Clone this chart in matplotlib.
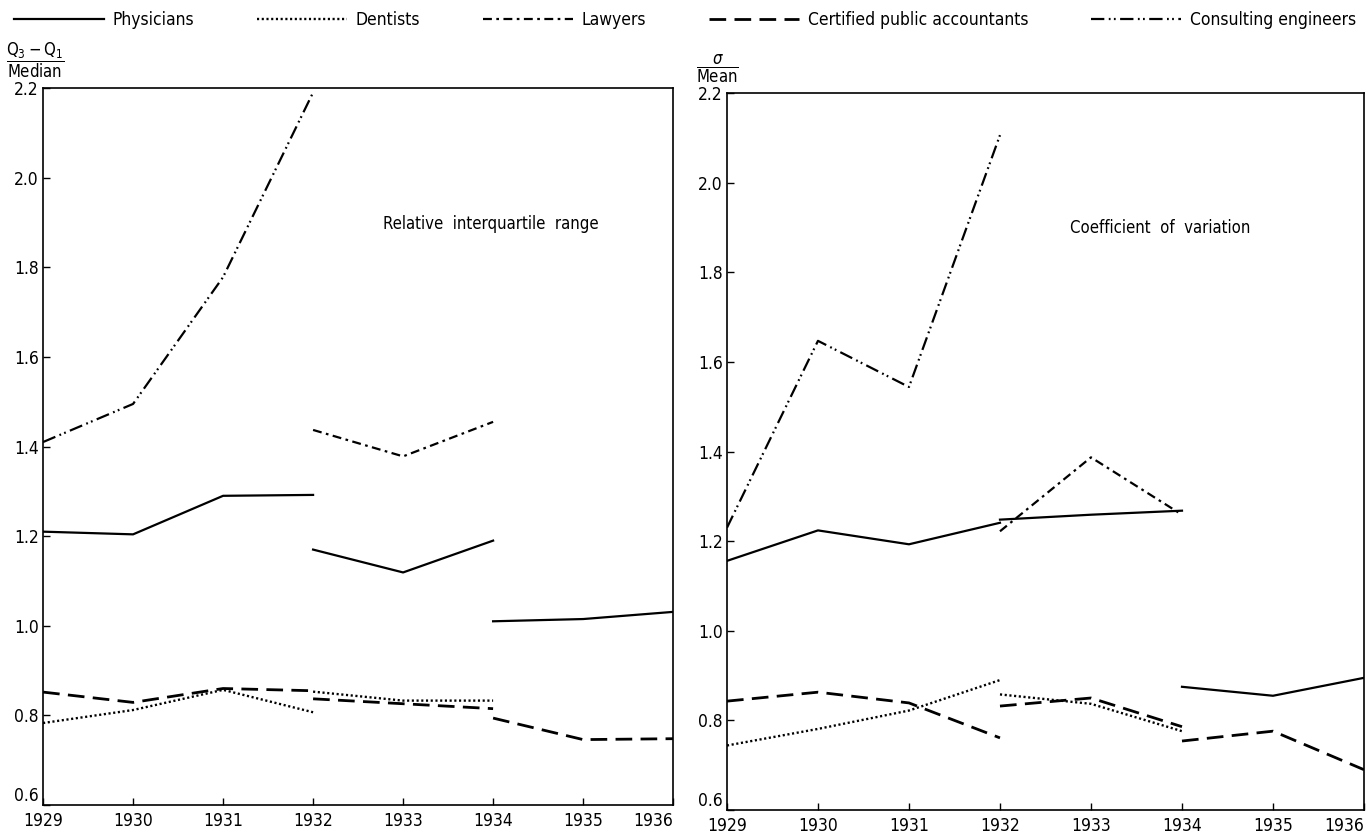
import matplotlib
matplotlib.use("Agg")
import matplotlib.pyplot as plt
import numpy as np

# fuente estrecha parecida al original
plt.rcParams['font.family'] = ['DejaVu Sans']
plt.rcParams['font.stretch'] = 'condensed'
plt.rcParams['mathtext.fontset'] = 'dejavusans'

years = [1929, 1930, 1931, 1932, 1933, 1934, 1935, 1936]
# tramos de años (las series estan cortadas en 1932 y 1934)
years_a = years[0:4]
years_b = years[3:6]
years_c = years[5:8]

# rango intercuartil relativo
iqr_phys_a = [1.21, 1.204, 1.29, 1.292]
iqr_phys_b = [1.17, 1.119, 1.19]
iqr_phys_c = [1.01, 1.015, 1.031]
iqr_dent_a = [0.783, 0.812, 0.857, 0.807]
iqr_dent_b = [0.853, 0.833, 0.833]
iqr_law_b = [1.437, 1.378, 1.455]
iqr_cpa_a = [0.852, 0.829, 0.860, 0.855]
iqr_cpa_b = [0.837, 0.826, 0.815]
iqr_cpa_c = [0.794, 0.746, 0.748]
iqr_eng_a = [1.41, 1.495, 1.778, 2.19]

# coeficiente de variacion
cv_phys_a = [1.156, 1.224, 1.193, 1.241]
cv_phys_b = [1.248, 1.259, 1.268]
cv_phys_c = [0.875, 0.855, 0.895]
cv_dent_a = [0.744, 0.781, 0.822, 0.890]
cv_dent_b = [0.858, 0.837, 0.776]
cv_law_b = [1.222, 1.387, 1.259]
cv_cpa_a = [0.843, 0.863, 0.839, 0.761]
cv_cpa_b = [0.832, 0.850, 0.786]
cv_cpa_c = [0.754, 0.776, 0.690]
cv_eng_a = [1.23, 1.647, 1.544, 2.106]

labels = ['Physicians', 'Dentists', 'Lawyers',
          'Certified public accountants', 'Consulting engineers']

st_phys = dict(color='black', lw=1.6, linestyle='-')
st_dent = dict(color='black', lw=1.7, linestyle=(0, (0.9, 1.1)))
st_law = dict(color='black', lw=1.6, linestyle=(0, (4, 2, 1.2, 2)))
st_cpa = dict(color='black', lw=2.0, linestyle=(0, (6, 3)))
st_eng = dict(color='black', lw=1.6, linestyle=(0, (6, 2, 0.8, 1.5, 0.8, 2)))

fig = plt.figure(figsize=(13.67, 8.35), dpi=100)
ax1 = fig.add_axes([0.0315, 0.0359, 0.4609, 0.8587])
ax2 = fig.add_axes([0.5318, 0.0299, 0.466, 0.8587])


def dibujar(ax, phys, dent, law, cpa, eng):
    h = []
    h.append(ax.plot(years_a, phys[0], **st_phys)[0])
    ax.plot(years_b, phys[1], **st_phys)
    ax.plot(years_c, phys[2], **st_phys)
    h.append(ax.plot(years_a, dent[0], **st_dent)[0])
    ax.plot(years_b, dent[1], **st_dent)
    h.append(ax.plot(years_b, law, **st_law)[0])
    h.append(ax.plot(years_a, cpa[0], **st_cpa)[0])
    ax.plot(years_b, cpa[1], **st_cpa)
    ax.plot(years_c, cpa[2], **st_cpa)
    h.append(ax.plot(years_a, eng, **st_eng)[0])

    ax.set_xlim(1929, 1936)
    ax.set_ylim(0.6, 2.2)
    ax.set_xticks(years)
    ax.set_xticklabels([str(y) for y in years])
    ax.get_xticklabels()[-1].set_horizontalalignment('right')
    ax.set_yticks(np.arange(0.6, 2.21, 0.2))
    ax.set_yticklabels(['%.1f' % v for v in np.arange(0.6, 2.21, 0.2)])
    ax.get_yticklabels()[0].set_verticalalignment('bottom')
    ax.tick_params(direction='in', length=5, width=1, labelsize=12.5)
    ax.tick_params(axis='x', pad=5)
    ax.tick_params(axis='y', pad=3)
    for s in ax.spines.values():
        s.set_linewidth(1.2)
    return h


handles = dibujar(ax1, [iqr_phys_a, iqr_phys_b, iqr_phys_c],
                  [iqr_dent_a, iqr_dent_b], iqr_law_b,
                  [iqr_cpa_a, iqr_cpa_b, iqr_cpa_c], iqr_eng_a)
dibujar(ax2, [cv_phys_a, cv_phys_b, cv_phys_c],
        [cv_dent_a, cv_dent_b], cv_law_b,
        [cv_cpa_a, cv_cpa_b, cv_cpa_c], cv_eng_a)

ax1.text(0.54, 0.81, 'Relative  interquartile  range', transform=ax1.transAxes,
         fontsize=12, va='center')
ax2.text(0.538, 0.812, 'Coefficient  of  variation', transform=ax2.transAxes,
         fontsize=12, va='center')

fig.text(0.026, 0.928, r'$\dfrac{\mathrm{Q_3 - Q_1}}{\mathrm{Median}}$',
         ha='center', va='center', fontsize=12)
fig.text(0.525, 0.917, r'$\dfrac{\sigma}{\mathrm{Mean}}$',
         ha='center', va='center', fontsize=12)

fig.legend(handles, labels, ncol=5, loc='center left', bbox_to_anchor=(0.005, 0.976),
           frameon=False, fontsize=12.5, handlelength=5.2, columnspacing=3.6,
           handletextpad=0.5, borderaxespad=0)

fig.savefig('out.png', dpi=100)
